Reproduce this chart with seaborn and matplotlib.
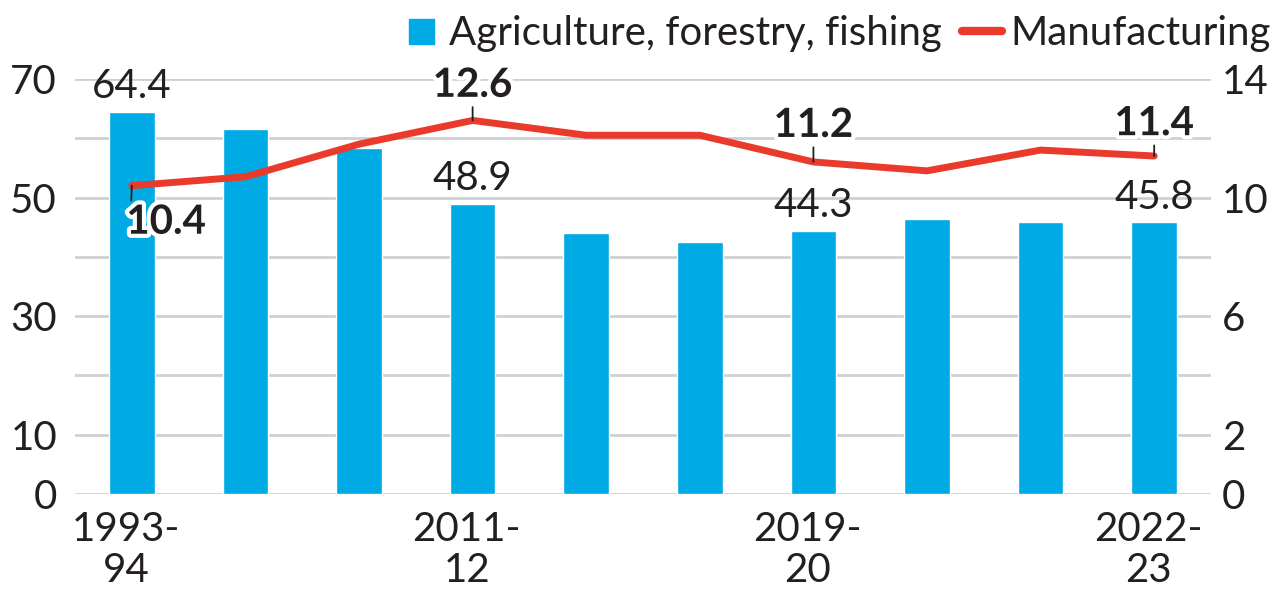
import matplotlib
matplotlib.use("Agg")

import matplotlib.pyplot as plt
import matplotlib.patheffects as pe
import matplotlib.transforms as mtransforms
from matplotlib.lines import Line2D
from matplotlib.ticker import MultipleLocator
import seaborn as sns

# share of workforce (%), by survey year
years = ["1993-94", "2004-05", "2009-10", "2011-12", "2017-18",
         "2018-19", "2019-20", "2020-21", "2021-22", "2022-23"]
tick_labels = ["1993-\n94", "", "", "2011-\n12", "", "", "2019-\n20", "", "", "2022-\n23"]
agri = [64.4, 61.5, 58.3, 48.9, 44.1, 42.5, 44.3, 46.4, 45.8, 45.8]
manuf = [10.4, 10.7, 11.8, 12.6, 12.1, 12.1, 11.2, 10.9, 11.6, 11.4]

agri_labelled = ["1993-94", "2011-12", "2019-20", "2022-23"]
manuf_labelled = ["1993-94", "2011-12", "2019-20", "2022-23"]

BLUE = "#00AAE4"
RED = "#EA3A2B"
INK = "#231F20"
GRID = "#CDD1D5"

sns.set_theme(style="white")
plt.rcParams["font.family"] = ["Lato", "DejaVu Sans"]
FS = 29

fig = plt.figure(figsize=(12.85, 5.96), dpi=100)
ax = fig.add_axes([0.0584, 0.171, 0.884, 0.6966])

sns.barplot(x=years, y=agri, color=BLUE, saturation=1, width=0.4, ax=ax, zorder=2)
ax.set_xlim(-0.5, len(years) - 0.5)
ax.set_ylim(0, 70)
ax.set_yticks([0, 10, 30, 50, 70])
ax.yaxis.set_minor_locator(MultipleLocator(10))
ax.grid(axis="y", which="both", color=GRID, linewidth=2, zorder=0)
ax.set_axisbelow(True)
ax.set_xticks(range(len(years)))
ax.set_xticklabels(tick_labels, linespacing=1.15)
ax.tick_params(axis="x", length=0, pad=12, labelsize=FS, colors=INK)
ax.tick_params(axis="y", which="both", length=0, pad=13, labelsize=FS, colors=INK)
ax.set_xlabel("")
ax.set_ylabel("")
for s in ax.spines.values():
    s.set_visible(False)

# nudge the year labels a touch left, like the original
shift = mtransforms.ScaledTranslation(-6 / 100, 0, fig.dpi_scale_trans)
for lbl in ax.get_xticklabels():
    lbl.set_transform(lbl.get_transform() + shift)

for i, (yr, v) in enumerate(zip(years, agri)):
    if yr in agri_labelled:
        ax.annotate(f"{v:.1f}", xy=(i, v), xytext=(0, 10), textcoords="offset points",
                    ha="center", va="baseline", fontsize=FS, color=INK)

ax2 = ax.twinx()
sns.lineplot(x=years, y=manuf, color=RED, linewidth=5, sort=False, ax=ax2)
ax2.set_ylim(0, 14)
ax2.set_yticks([0, 2, 6, 10, 14])
ax2.tick_params(axis="y", length=0, pad=8, labelsize=FS, colors=INK)
ax2.set_ylabel("")
ax2.grid(False)
for s in ax2.spines.values():
    s.set_visible(False)

halo = [pe.withStroke(linewidth=6, foreground="white")]
offsets = {"1993-94": -13, "2011-12": 17, "2019-20": 18, "2022-23": 15}
for i, (yr, v) in enumerate(zip(years, manuf)):
    if yr not in manuf_labelled:
        continue
    dy = offsets[yr]
    if dy < 0:
        t = ax2.annotate(f"{v:.1f}", xy=(i, v), xytext=(-4, dy), textcoords="offset points",
                         ha="left", va="top", fontsize=FS, fontweight="bold", color=INK,
                         arrowprops=dict(arrowstyle="-", color=INK, lw=1.3, shrinkA=0,
                                         shrinkB=0, relpos=(0.06, 1)))
    else:
        t = ax2.annotate(f"{v:.1f}", xy=(i, v), xytext=(0, dy), textcoords="offset points",
                         ha="center", va="baseline", fontsize=FS, fontweight="bold", color=INK,
                         arrowprops=dict(arrowstyle="-", color=INK, lw=1.3, shrinkA=0,
                                         shrinkB=0, relpos=(0.5, 0)))
    t.set_path_effects(halo)

handles = [
    Line2D([], [], marker="s", linestyle="none", markersize=18, color=BLUE),
    Line2D([], [], color=RED, linewidth=6),
]
fig.legend(handles, ["Agriculture, forestry, fishing", "Manufacturing"],
           loc="upper right", bbox_to_anchor=(1.017, 1.035), ncol=2, frameon=False,
           fontsize=FS, handlelength=1.0, handletextpad=0.2, columnspacing=0.5,
           labelcolor=INK)

fig.savefig("out.png", dpi=100)
